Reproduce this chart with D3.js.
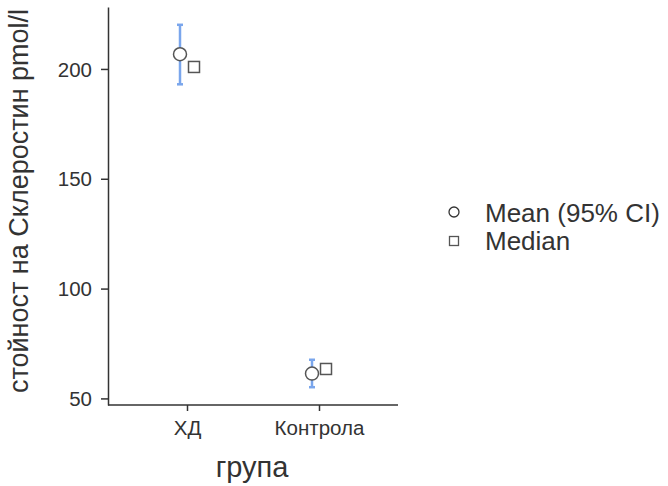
<!DOCTYPE html>
<html>
<head>
<meta charset="utf-8">
<script src="https://cdn.jsdelivr.net/npm/d3@7.9.0/dist/d3.min.js"></script>
<style>
  body { margin: 0; background: #fff; }
  svg { font-family: "Liberation Sans", Arial, sans-serif; }
</style>
</head>
<body>
<svg width="668" height="486"></svg>
<script>
const groups = ['ХД', 'Контрола']
const means = [206.7, 61.3]
const ciLow = [193.0, 55.1]
const ciHigh = [220.1, 67.6]
const medians = [200.9, 63.4]
const yTicks = [50, 100, 150, 200]

const svg = d3.select('svg')

let y = d3.scaleLinear().domain([47, 228.2]).range([405, 7])
let x = d3.scalePoint().domain(groups).range([187, 319])

// axes
let yAxis = svg.append('g')
    .attr('transform', 'translate(108,0)')
    .call(d3.axisLeft(y).tickValues(yTicks).tickSize(7).tickPadding(9).tickSizeOuter(0))
let xAxis = svg.append('g')
    .attr('transform', 'translate(0,405)')
    .call(d3.axisBottom(x).tickSize(6).tickPadding(9).tickSizeOuter(0))

xAxis.select('.domain').attr('d', 'M108,0H398')

for (let ax of [xAxis, yAxis]) {
    ax.select('.domain').attr('stroke', '#333').attr('stroke-width', 1.5)
    ax.selectAll('.tick line').attr('stroke', '#333').attr('stroke-width', 1.5)
    ax.selectAll('.tick text').attr('fill', '#333').attr('font-size', 20.5)
}
yAxis.selectAll('.tick text').attr('dy', '0.35em')

// axis titles
svg.append('text')
    .attr('transform', 'translate(28,201) rotate(-90)')
    .attr('text-anchor', 'middle')
    .attr('fill', '#333')
    .attr('font-size', 27)
    .text('стойност на Склеростин pmol/l')

svg.append('text')
    .attr('x', 252).attr('y', 477)
    .attr('text-anchor', 'middle')
    .attr('fill', '#333')
    .attr('font-size', 29)
    .text('група')

const dodge = 7
const blue = '#7aa6ec'

// error bars
groups.forEach((g, i) => {
    let cx = x(g) - dodge
    svg.append('line')
        .attr('x1', cx).attr('x2', cx)
        .attr('y1', y(ciLow[i])).attr('y2', y(ciHigh[i]))
        .attr('stroke', blue).attr('stroke-width', 2.5)
    for (let v of [ciLow[i], ciHigh[i]]) {
        svg.append('line')
            .attr('x1', cx - 3).attr('x2', cx + 3)
            .attr('y1', y(v)).attr('y2', y(v))
            .attr('stroke', blue).attr('stroke-width', 2.5)
    }
})

// medians
svg.selectAll('rect.median')
    .data(groups)
    .join('rect')
    .attr('class', 'median')
    .attr('x', (d) => x(d) + dodge - 5.5)
    .attr('y', (d, i) => y(medians[i]) - 5.5)
    .attr('width', 11).attr('height', 11)
    .attr('fill', '#fff').attr('stroke', '#555').attr('stroke-width', 1.5)

// means
svg.selectAll('circle.mean')
    .data(groups)
    .join('circle')
    .attr('class', 'mean')
    .attr('cx', (d) => x(d) - dodge)
    .attr('cy', (d, i) => y(means[i]))
    .attr('r', 6.5)
    .attr('fill', '#fff').attr('stroke', '#555').attr('stroke-width', 1.5)

// legend
let legend = svg.append('g').attr('transform', 'translate(454,212)')
legend.append('circle').attr('cx', 0).attr('cy', 0).attr('r', 5)
    .attr('fill', '#fff').attr('stroke', '#333').attr('stroke-width', 1.3)
legend.append('rect').attr('x', -4.5).attr('y', 24.5).attr('width', 9).attr('height', 9)
    .attr('fill', '#fff').attr('stroke', '#555').attr('stroke-width', 1.3)
legend.append('text').attr('x', 31).attr('y', 9.5).attr('font-size', 26).attr('fill', '#333')
    .text('Mean (95% CI)')
legend.append('text').attr('x', 31).attr('y', 38).attr('font-size', 26).attr('fill', '#333')
    .text('Median')
</script>
</body>
</html>
